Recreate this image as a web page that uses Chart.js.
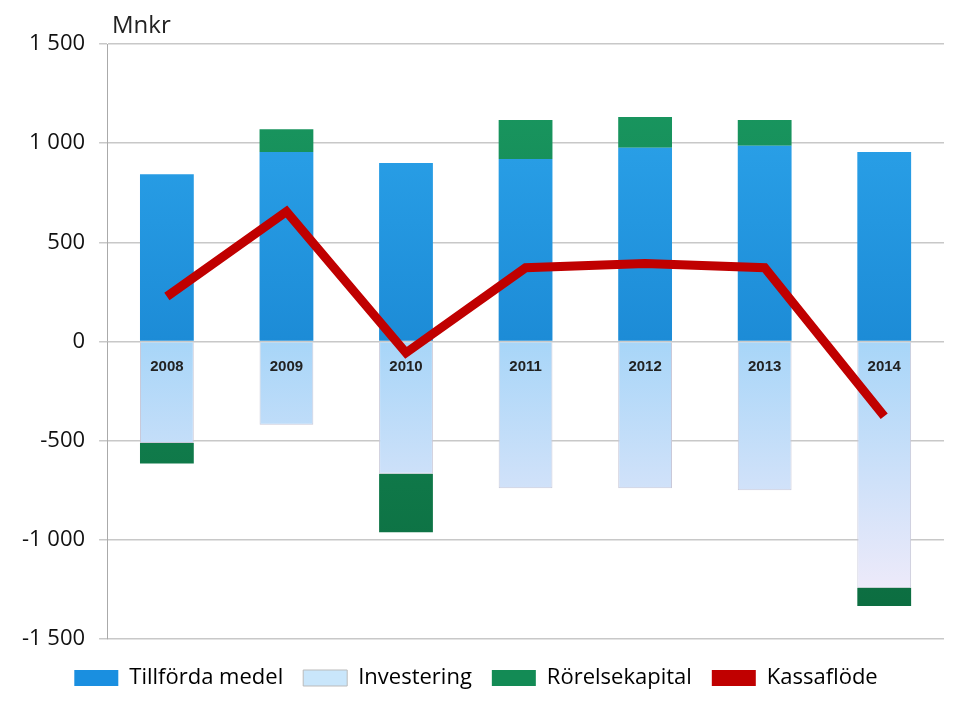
<!DOCTYPE html>
<html><head><meta charset="utf-8">
<script src="https://cdn.jsdelivr.net/npm/chart.js@4"></script>
<style>html,body{margin:0;padding:0;background:#fff;overflow:hidden}</style>
</head><body><canvas id="c" width="959" height="709" style="width:959px;height:709px"></canvas>
<script>
const years = ['2008','2009','2010','2011','2012','2013','2014'];
const tillforda = [843, 956, 900, 920, 977, 987, 956];
const investering = [-512, -420, -667, -740, -740, -750, -1241];
const rorelse = [-103, 114, -295, 197, 155, 130, -93];
const kassaflode = [227, 655, -57, 372, 393, 372, -377];
const yTicks = [1500, 1000, 500, 0, -500, -1000, -1500];

function fmt(v){const s=Math.abs(v).toString().replace(/\B(?=(\d{3})+(?!\d))/g,' ');return (v<0?'-':'')+s;}
function grad(ctx, stops){
  const {chart}=ctx; const a=chart.chartArea; if(!a) return stops[0][1];
  const el=ctx.element;
  let g;
  if(el && isFinite(el.y) && isFinite(el.base) && el.y!==el.base){
    g=chart.ctx.createLinearGradient(0,Math.min(el.y,el.base),0,Math.max(el.y,el.base));
  } else g=chart.ctx.createLinearGradient(0,a.top,0,a.bottom);
  stops.forEach(s=>g.addColorStop(s[0],s[1])); return g;
}
const catLabels={id:'catLabels',afterDatasetsDraw(chart){
  const c=chart.ctx,x=chart.scales.x,y=chart.scales.y;
  c.save();c.font='bold 15px "Liberation Sans", Arial';c.fillStyle='#222';c.textAlign='center';c.textBaseline='middle';
  years.forEach((yr,i)=>c.fillText(yr,x.getPixelForValue(i),y.getPixelForValue(0)+25));
  c.font='24px "Open Sans", Calibri, sans-serif';c.textAlign='left';c.fillText('Mnkr',112,26);
  c.restore();
}};
new Chart(document.getElementById('c'),{
  type:'bar',
  data:{labels:years,datasets:[
    {label:'Tillförda medel',data:tillforda,order:2,
     backgroundColor:ctx=>grad(ctx,[[0,'#2fa8ee'],[1,'#0a6fbf']]),borderWidth:0,
     barPercentage:0.45,categoryPercentage:1},
    {label:'Investering',data:investering,order:2,
     backgroundColor:ctx=>grad(ctx,[[0,'#d6ecfb'],[0.45,'#9fd3f8'],[1,'#fbeefa']]),borderColor:'#c9c9d9',borderWidth:1,
     barPercentage:0.45,categoryPercentage:1},
    {label:'Rörelsekapital',data:rorelse,order:2,
     backgroundColor:ctx=>grad(ctx,[[0,'#1a9a62'],[1,'#0b6b3f']]),borderWidth:0,
     barPercentage:0.45,categoryPercentage:1},
    {label:'Kassaflöde',type:'line',data:kassaflode,order:1,borderColor:'#c00000',backgroundColor:'#c00000',
     borderWidth:9,pointRadius:0,tension:0,stack:'line'}
  ]},
  options:{responsive:false,animation:false,devicePixelRatio:1,
    layout:{padding:{top:44,right:15,left:8,bottom:10}},
    scales:{
      x:{stacked:true,grid:{display:false},border:{display:false},ticks:{display:false}},
      y:{stacked:true,min:-1500,max:1500,afterBuildTicks:s=>{s.ticks=yTicks.map(v=>({value:v}));},
        grid:{color:'#c8c8c8',lineWidth:1.5},border:{display:true,color:'#aaa'},
        ticks:{color:'#111',font:{size:22,family:'"Open Sans", Calibri, sans-serif'},padding:14,callback:v=>fmt(v)}}
    },
    plugins:{legend:{position:'bottom',labels:{color:'#111',font:{size:22,family:'"Open Sans", Calibri, sans-serif'},boxWidth:44,boxHeight:16,padding:20,
      generateLabels:chart=>{
        const cols=['#1a8fe0','#c9e6fb','#138b55','#c00000'];
        return chart.data.datasets.map((d,i)=>({text:d.label,fillStyle:cols[i],strokeStyle:i==1?'#bbb':cols[i],lineWidth:i==1?1:0,datasetIndex:i,hidden:false}));
      }}},tooltip:{enabled:false}}
  },
  plugins:[catLabels]
});
</script>
</body></html>
